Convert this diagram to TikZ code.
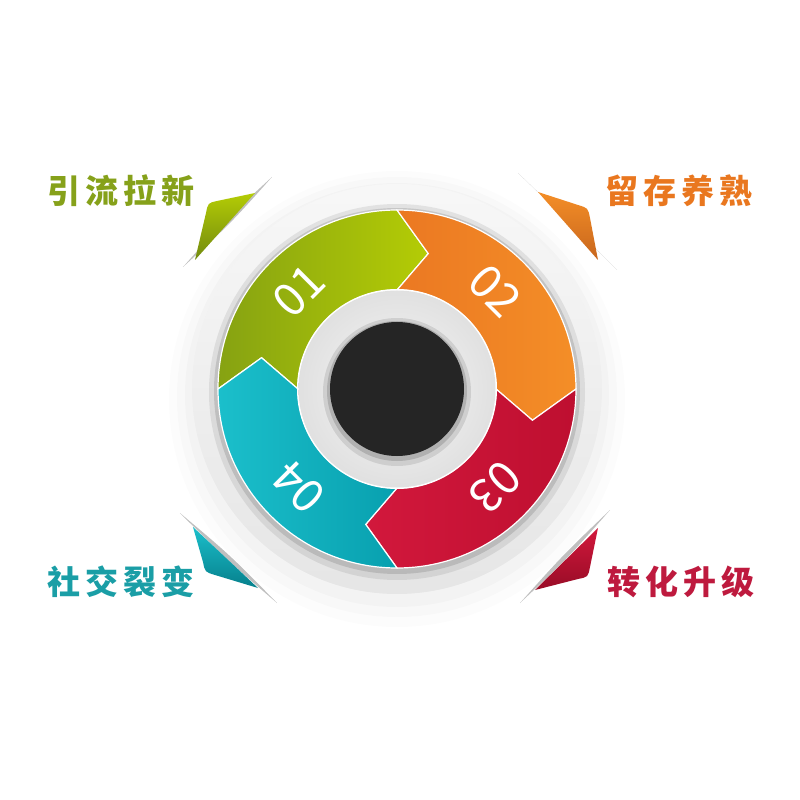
\documentclass[tikz,border=0pt]{standalone}
\usepackage{fontspec}
\newfontfamily\cjk{Noto Sans CJK SC}[LetterSpace=16]
\newfontfamily\digitfont{Noto Sans CJK SC}
\definecolor{leafA}{HTML}{86A212}
\definecolor{leafB}{HTML}{B4CC05}
\definecolor{leafT}{HTML}{86A11A}
\definecolor{sunA}{HTML}{EB7822}
\definecolor{sunB}{HTML}{F48E27}
\definecolor{sunT}{HTML}{E9771F}
\definecolor{rubyA}{HTML}{D2183C}
\definecolor{rubyB}{HTML}{BE0F30}
\definecolor{rubyT}{HTML}{BE1A3E}
\definecolor{tealA}{HTML}{1BBFCB}
\definecolor{tealB}{HTML}{08A0AF}
\definecolor{tealT}{HTML}{1A9EA6}
\definecolor{coal}{HTML}{252525}
\begin{document}
\begin{tikzpicture}[x=1pt, y=1pt,
    seg/.style={draw=white, line width=1.2pt},
    num/.style={white, inner sep=0pt, font=\digitfont\fontsize{46}{46}\selectfont},
    lbl/.style={font=\cjk\bfseries\fontsize{33}{33}\selectfont},
    slit/.style={fill=gray!50}]
  \useasboundingbox (-397,-411) rectangle (403,389);

  % soft shadow round the disc
  \fill [black, opacity=0.012] (0,-10) circle [radius=228];
  \fill [black, opacity=0.015] (0,-8) circle [radius=220];
  \fill [black, opacity=0.02] (0,-6) circle [radius=212];
  \shade [top color=gray!6, bottom color=gray!20] (0,0) circle [radius=205];
  \fill [black, opacity=0.08] (0,-3) circle [radius=188];
  \fill [black, opacity=0.12] (0,-2) circle [radius=183];

  % corner flaps
  \fill [slit] (-214,122) .. controls (-172,169) .. (-125,212) .. controls (-167,165) .. cycle;
  \shade [top color=leafB, bottom color=leafA!85!black]
    (-202,129) -- (-191,176) .. controls (-189,186) .. (-180,188) -- (-142,196) -- cycle;
  \fill [slit] (121,216) .. controls (168,171) .. (220,119) .. controls (172,167) .. cycle;
  \shade [top color=sunB, bottom color=sunA!85!black]
    (141,197) -- (181,184) .. controls (191,181) .. (193,171) -- (201,129) -- cycle;
  \fill [slit] (-217,-124) .. controls (-166,-167) .. (-120,-214) .. controls (-170,-171) .. cycle;
  \shade [top color=tealA, bottom color=tealB!80!black]
    (-204,-138) -- (-194,-173) .. controls (-192,-183) .. (-182,-186) -- (-139,-199) -- cycle;
  \fill [slit] (213,-121) .. controls (166,-166) .. (123,-214) .. controls (170,-170) .. cycle;
  \shade [top color=rubyA, bottom color=rubyB!80!black]
    (201,-139) -- (193,-178) .. controls (191,-188) .. (181,-190) -- (138,-201) -- cycle;

  % ring of four arrows
  \shadedraw [seg, left color=leafA, right color=leafB]
    (180:179) arc [start angle=180, end angle=90, radius=179] -- (77:139) -- (90:99)
    arc [start angle=90, end angle=180, radius=99] -- (167:139) -- cycle;
  \shadedraw [seg, left color=sunA, right color=sunB]
    (90:179) arc [start angle=90, end angle=0, radius=179] -- (-13:139) -- (0:99)
    arc [start angle=0, end angle=90, radius=99] -- (77:139) -- cycle;
  \shadedraw [seg, left color=rubyA, right color=rubyB]
    (0:179) arc [start angle=0, end angle=-90, radius=179] -- (-103:139) -- (-90:99)
    arc [start angle=-90, end angle=0, radius=99] -- (-13:139) -- cycle;
  \shadedraw [seg, left color=tealA, right color=tealB]
    (-90:179) arc [start angle=-90, end angle=-180, radius=179] -- (-193:139) -- (-180:99)
    arc [start angle=-180, end angle=-90, radius=99] -- (-103:139) -- cycle;

  % hub
  \fill [white] (0,0) circle [radius=100];
  \shade [inner color=gray!6, outer color=gray!24] (0,0) circle [radius=98.5];
  \fill [black, opacity=0.10] (0,-3) circle [radius=74];
  \fill [black, opacity=0.15] (0,-2) circle [radius=70];
  \fill [coal] (0,0) circle [radius=67];

  \node [num, rotate=45] (n01) at (135:139) {01};
  \node [num, rotate=-45] (n02) at (45:139) {02};
  \node [num, rotate=-135] (n03) at (-45:139) {03};
  \node [num, rotate=135] (n04) at (-135:139) {04};

  \node [lbl, leafT] (l01) at (-276,198) {引流拉新};
  \node [lbl, sunT] (l02) at (282,198) {留存养熟};
  \node [lbl, rubyT] (l03) at (284,-193) {转化升级};
  \node [lbl, tealT] (l04) at (-276,-193) {社交裂变};
\end{tikzpicture}
\end{document}
